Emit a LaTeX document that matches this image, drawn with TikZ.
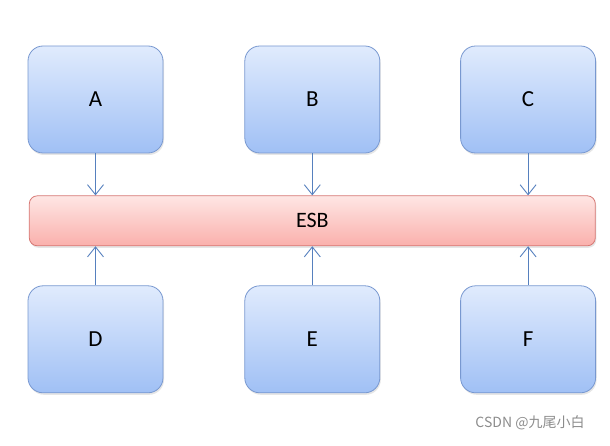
\documentclass[tikz,border=0pt]{standalone}
\usepackage{fontspec}
\setmainfont{Carlito}
\newfontfamily\cjk{Noto Sans CJK SC}
\usetikzlibrary{positioning, shadows, arrows.meta}
\definecolor{boxtop}{RGB}{224,235,253}
\definecolor{boxbottom}{RGB}{160,192,245}
\definecolor{boxline}{RGB}{120,152,208}
\definecolor{bustop}{RGB}{254,230,228}
\definecolor{busbottom}{RGB}{250,176,172}
\definecolor{busline}{RGB}{214,120,116}
\definecolor{linkcolor}{RGB}{86,128,190}

\begin{document}
\begin{tikzpicture}[x=1pt, y=1pt, node distance=81pt,
    service/.style={rectangle, draw=boxline, line width=0.8pt, top color=boxtop, bottom color=boxbottom, minimum width=135pt, minimum height=107pt, rounded corners=15pt, font=\fontsize{23}{25}\selectfont, drop shadow={opacity=0.2, shadow xshift=1pt, shadow yshift=-2pt}},
    bus/.style={rectangle, draw=busline, line width=0.8pt, top color=bustop, bottom color=busbottom, minimum width=566pt, minimum height=50pt, rounded corners=8pt, font=\fontsize{22}{24}\selectfont, drop shadow={opacity=0.2, shadow xshift=1pt, shadow yshift=-2pt}},
    link/.style={-{Straight Barb[length=10pt, width=16pt]}, linkcolor, line width=0.9pt}]
    \useasboundingbox (0,0) rectangle (610,445);

    % upper row
    \node [service] (A) at (95.5,345.5) {A};
    \node [service, right=81pt of A] (B) {B};
    \node [service, right=80pt of B] (C) {C};

    % the bus
    \node [bus, below=42pt of B] (ESB) {ESB};

    % lower row
    \node [service, below=132pt of A] (D) {D};
    \node [service, below=132pt of B] (E) {E};
    \node [service, below=132pt of C] (F) {F};

    \draw [link] (A) -- (A |- ESB.north);
    \draw [link] (B) -- (B |- ESB.north);
    \draw [link] (C) -- (C |- ESB.north);
    \draw [link] (D) -- (D |- ESB.south);
    \draw [link] (E) -- (E |- ESB.south);
    \draw [link] (F) -- (F |- ESB.south);

    \node [text=black!45, font=\cjk\fontsize{14}{16}\selectfont] (mark) at (530,22) {CSDN @九尾小白};
\end{tikzpicture}
\end{document}
